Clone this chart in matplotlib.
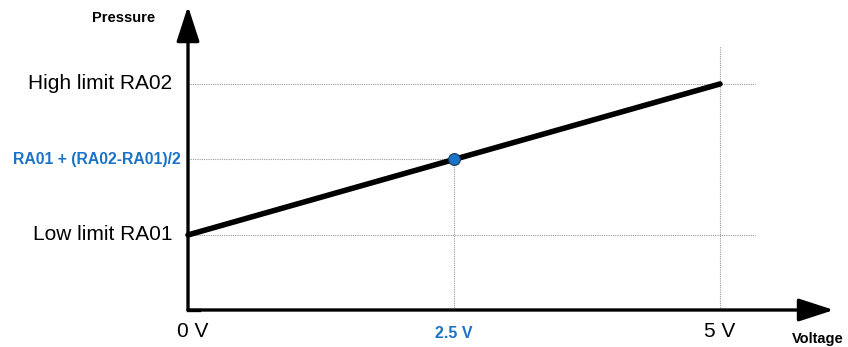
import matplotlib.pyplot as plt

plt.rcParams['font.family'] = ['Liberation Sans', 'DejaVu Sans']

# data
voltage = [0, 5]
pressure = [0, 1]            # 0 = low limit RA01, 1 = high limit RA02
mid_voltage = 2.5
mid_pressure = 0.5
y_labels = ['Low limit RA01', 'RA01 + (RA02-RA01)/2', 'High limit RA02']
x_labels = ['0 V', '2.5 V', '5 V']

blue = '#1A73C6'
grid = dict(color='#9a9a9a', lw=0.8, ls=(0, (1, 1)))

fig = plt.figure(figsize=(8.48, 3.47), dpi=100)
ax = fig.add_axes([0, 0, 1, 1])
ax.set_xlim(-1.767, 6.203)
ax.set_ylim(-0.742, 1.556)
ax.axis('off')

x_axis_y = -0.497
y_top = 1.515
x_end = 6.07

# guide lines
ax.plot([0, 5.33], [pressure[1]] * 2, **grid)
ax.plot([0, 5.33], [pressure[0]] * 2, **grid)
ax.plot([0, mid_voltage], [mid_pressure] * 2, **grid)
ax.plot([mid_voltage] * 2, [x_axis_y, mid_pressure], **grid)
ax.plot([voltage[1]] * 2, [x_axis_y, 1.25], **grid)

# axes arrows
arrow = dict(arrowstyle='-|>,head_length=0.4,head_width=0.13', lw=2.4,
             color='black', mutation_scale=54, shrinkA=0, shrinkB=0)
ax.annotate('', xy=(0, y_top), xytext=(0, x_axis_y), arrowprops=arrow)
ax.annotate('', xy=(x_end, x_axis_y), xytext=(0, x_axis_y), arrowprops=arrow)
ax.plot([0, 0.1], [x_axis_y] * 2, color='black', lw=2.4, solid_capstyle='projecting')

# the characteristic
ax.plot(voltage, pressure, color='black', lw=4, solid_capstyle='round')
ax.plot([mid_voltage], [mid_pressure], 'o', ms=8.5, color=blue, mec='#1a3a5a', mew=0.8)

# labels
ax.text(-0.15, pressure[1], y_labels[2], ha='right', va='center', fontsize=15)
ax.text(-0.15, pressure[0], y_labels[0], ha='right', va='center', fontsize=15)
ax.text(-0.07, mid_pressure, y_labels[1], ha='right', va='center', fontsize=11.3,
        fontweight='bold', color=blue)
ax.text(-0.61, 1.438, 'Pressure', ha='center', va='center', fontsize=10.5, fontweight='bold')

ax.text(0.04, -0.64, x_labels[0], ha='center', va='center', fontsize=15)
ax.text(mid_voltage, -0.65, x_labels[1], ha='center', va='center', fontsize=11.5,
        fontweight='bold', color=blue)
ax.text(voltage[1], -0.64, x_labels[2], ha='center', va='center', fontsize=15)
ax.text(5.92, -0.687, 'Voltage', ha='center', va='center', fontsize=10.5, fontweight='bold')

fig.savefig('out.png', dpi=100)
